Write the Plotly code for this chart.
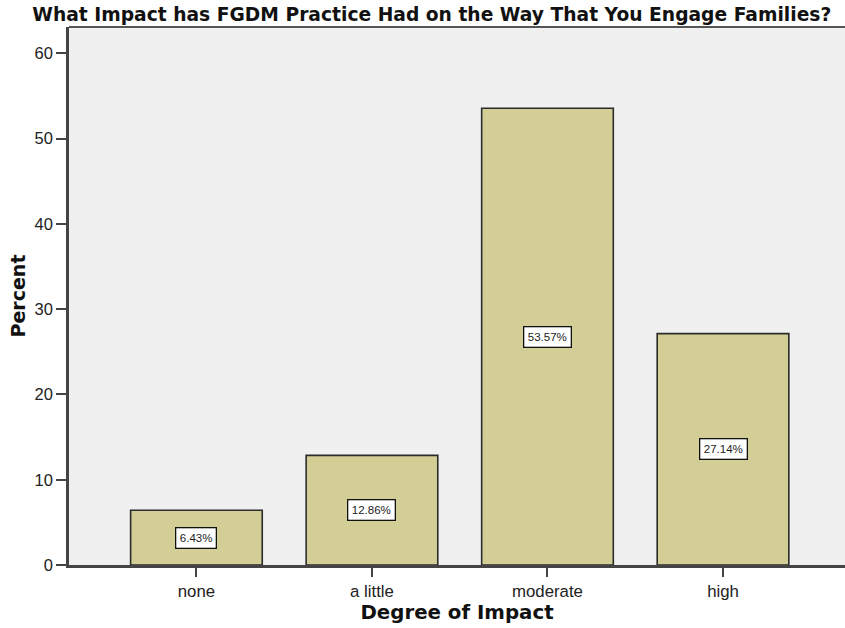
import plotly.graph_objects as go

categories = ["none", "a little", "moderate", "high"]
percents = [6.43, 12.86, 53.57, 27.14]
y_ticks = [0, 10, 20, 30, 40, 50, 60]

bar_fill = "#D2CE96"
edge = "#2B2B2B"
bold_font = "DejaVu Sans, Liberation Sans, Arial, sans-serif"
tick_font = "Liberation Sans, Arial, sans-serif"

fig = go.Figure()
fig.add_trace(go.Bar(
    x=categories,
    y=percents,
    width=0.75,
    marker=dict(color=bar_fill, line=dict(color=edge, width=1.6)),
    hoverinfo="skip",
))

# value labels in small white boxes at half bar height
for cat, val in zip(categories, percents):
    fig.add_annotation(
        x=cat, y=val / 2, text=f"{val:.2f}%", showarrow=False,
        font=dict(family=tick_font, size=11.5, color="#222"),
        bgcolor="white", bordercolor="#111", borderwidth=1.3, borderpad=3.5,
    )

fig.update_layout(
    width=845, height=628,
    margin=dict(l=69, r=0, t=27, b=63),
    paper_bgcolor="white",
    plot_bgcolor="#F0F0F0",
    showlegend=False,
    title=dict(
        text="<b>What Impact has FGDM Practice Had on the Way That You Engage Families?</b>",
        x=0.511, xanchor="center", y=0.988, yanchor="top",
        font=dict(family=bold_font, size=18.7, color="#111"),
    ),
    xaxis=dict(
        range=[-0.726, 3.695],
        showline=True, linecolor="#444", linewidth=2.5,
        ticks="outside", ticklen=9, tickwidth=2, tickcolor="#444",
        tickfont=dict(family=tick_font, size=16.8, color="#222"),
        title=dict(text="<b>Degree of Impact</b>", standoff=6,
                   font=dict(family=bold_font, size=19.8, color="#111")),
        showgrid=False, mirror=False,
    ),
    yaxis=dict(
        range=[0, 63.1],
        tickvals=y_ticks,
        showline=True, linecolor="#444", linewidth=2.5,
        ticks="outside", ticklen=10, tickwidth=2, tickcolor="#444",
        tickfont=dict(family=tick_font, size=16.5, color="#222"),
        title=dict(text="<b>Percent</b>", standoff=4,
                   font=dict(family=bold_font, size=19, color="#111")),
        showgrid=False, zeroline=False,
    ),
)

# top frame line of the plot area
fig.add_shape(type="line", xref="paper", yref="paper", x0=0, x1=1, y0=1, y1=1,
              line=dict(color="#555", width=2))

fig.write_html("out.html")
